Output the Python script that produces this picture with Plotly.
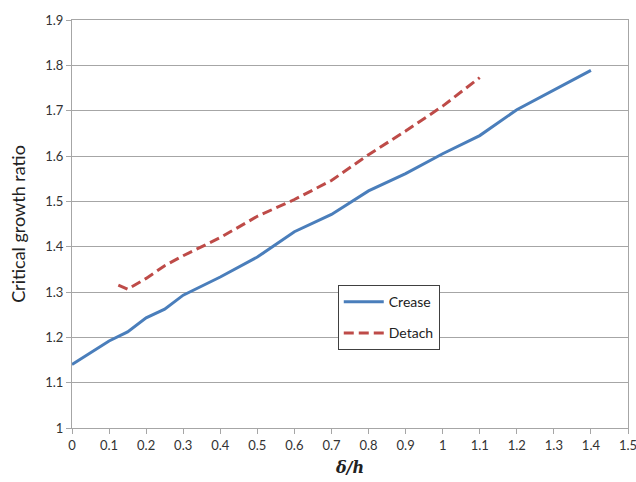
import plotly.graph_objects as go

# Critical growth ratio versus normalized thickness delta/h
crease_x = [0, 0.1, 0.15, 0.2, 0.25, 0.3, 0.4, 0.5, 0.6, 0.7, 0.8, 0.9, 1.0, 1.1, 1.2, 1.3, 1.4]
crease_y = [1.14, 1.192, 1.212, 1.243, 1.262, 1.293, 1.333, 1.377, 1.433, 1.471, 1.523, 1.561, 1.605, 1.645, 1.702, 1.746, 1.789]

detach_x = [0.125, 0.15, 0.2, 0.25, 0.3, 0.4, 0.5, 0.6, 0.7, 0.8, 0.9, 1.0, 1.1]
detach_y = [1.315, 1.306, 1.33, 1.358, 1.38, 1.42, 1.467, 1.504, 1.546, 1.603, 1.655, 1.71, 1.773]

x_ticks = [round(0.1 * i, 1) for i in range(16)]
x_tick_labels = ["0", "0.1", "0.2", "0.3", "0.4", "0.5", "0.6", "0.7", "0.8", "0.9",
                 "1", "1.1", "1.2", "1.3", "1.4", "1.5"]
y_ticks = [round(1 + 0.1 * i, 1) for i in range(10)]
y_tick_labels = ["1", "1.1", "1.2", "1.3", "1.4", "1.5", "1.6", "1.7", "1.8", "1.9"]

font_family = "Lato, 'Open Sans', sans-serif"
grid_color = "#a6a6a6"

fig = go.Figure()
fig.add_trace(go.Scatter(
    x=crease_x, y=crease_y, mode="lines", name="Crease", legendgroup="crease",
    line=dict(color="#4a7ebb", width=3),
))
fig.add_trace(go.Scatter(
    x=detach_x, y=detach_y, mode="lines", name="Detach", legendgroup="detach",
    line=dict(color="#be4b48", width=3, dash="10px,5px"),
))

fig.update_layout(
    width=636, height=482,
    margin=dict(l=72, r=8, t=20, b=54),
    paper_bgcolor="white", plot_bgcolor="white",
    font=dict(family=font_family, size=13, color="#333333"),
    showlegend=True,
    legend=dict(
        x=0.478, y=0.35, xanchor="left", yanchor="top",
        bgcolor="white", bordercolor="#404040", borderwidth=1,
        font=dict(family=font_family, size=14, color="#222222"),
        tracegroupgap=10, itemwidth=40,
    ),
    xaxis=dict(
        range=[0, 1.5], tickvals=x_ticks, ticktext=x_tick_labels,
        ticklabeloverflow="allow", automargin=False,
        showgrid=False, showline=True, linecolor=grid_color, linewidth=1,
        ticks="outside", ticklen=5, tickcolor=grid_color, mirror=True,
        zeroline=False,
        title=dict(text="<b><i>δ/h</i></b>",
                   font=dict(family="DejaVu Serif, serif", size=16, color="#222222"),
                   standoff=10),
    ),
    yaxis=dict(
        range=[1, 1.9], tickvals=y_ticks, ticktext=y_tick_labels,
        automargin=False,
        showgrid=True, gridcolor=grid_color, gridwidth=1,
        showline=True, linecolor=grid_color, linewidth=1, mirror=True,
        ticks="outside", ticklen=5, tickcolor=grid_color,
        zeroline=False,
        title=dict(text="Critical growth ratio",
                   font=dict(family=font_family, size=18, color="#222222"),
                   standoff=14),
    ),
)

fig.write_html("out.html")
